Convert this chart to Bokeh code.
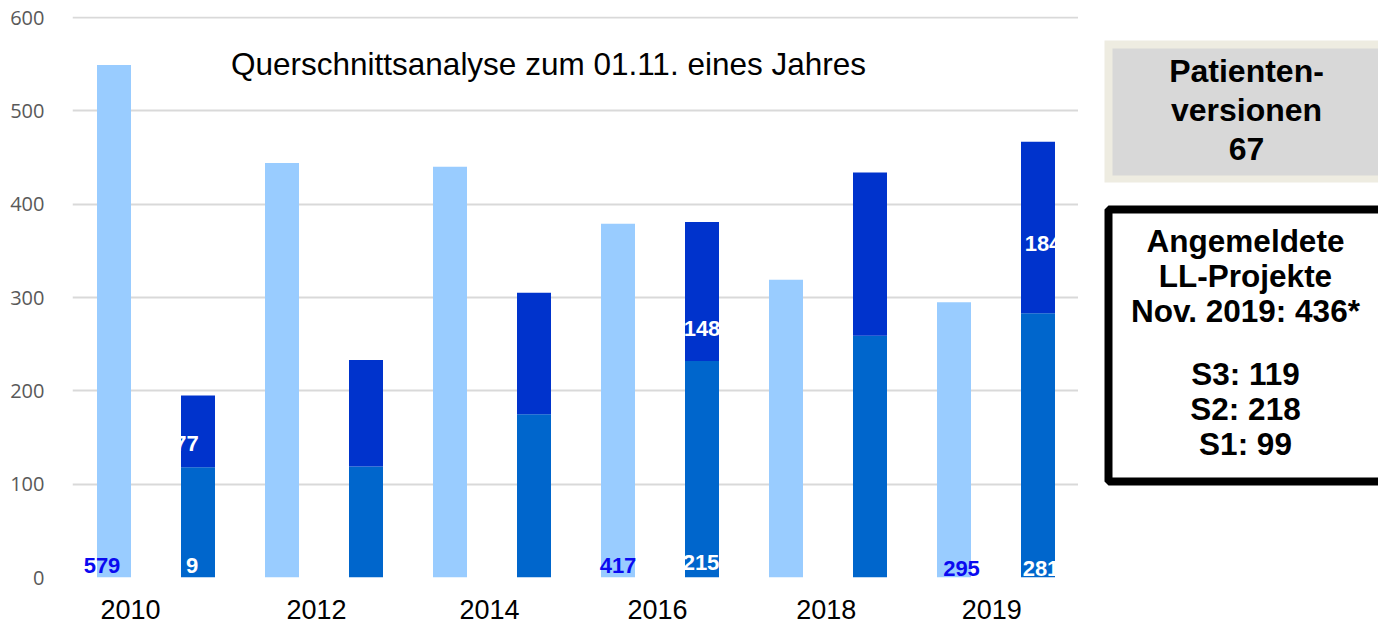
from bokeh.plotting import figure
from bokeh.models import ColumnDataSource, FixedTicker, Range1d
from bokeh.layouts import row
from bokeh.core.properties import value
from bokeh.embed import file_html
from bokeh.resources import INLINE

# ---- data ----
years = ["2010", "2012", "2014", "2016", "2018", "2019"]
light_vals = [549, 444, 440, 379, 319, 295]          # light blue bars
dark_lower = [118, 119, 175, 232, 259, 283]           # medium blue (lower part)
dark_upper = [77, 114, 130, 149, 175, 184]            # dark blue (upper part)
y_ticks = [0, 100, 200, 300, 400, 500, 600]

blue_lbl_pair = [0, 3, 5]
blue_lbl_text = ["579", "417", "295"]
lower_lbl_pair = [0, 3, 5]
lower_lbl_text = ["9", "215", "281"]
upper_lbl_pair = [0, 3, 5]
upper_lbl_text = ["77", "148", "184"]

# positions / styles
SLOT_PX = 84.0
light_x = [2 * i for i in range(len(years))]
dark_x = [2 * i + 1 for i in range(len(years))]
year_tick_pos = [0.196, 2.41, 4.47, 6.47, 8.48, 10.45]
blue_lbl_y = [13, 13, 10]
blue_lbl_dx = [-12, 0, 7.5]
lower_lbl_y = [13, 16, 10]
lower_lbl_dx = [-6, -1, 3]
upper_lbl_y = [144, 267, 358]
upper_lbl_dx = [-11.5, 0, 5]

FONT = "Liberation Sans"
TOP, BOTTOM = 16, 52

p = figure(width=1078, height=629, output_backend="svg", toolbar_location=None,
           x_range=Range1d((72 - 113.5) / SLOT_PX, (1078 - 113.5) / SLOT_PX),
           y_range=Range1d(0, 600 * 561 / 560),
           min_border_left=72, min_border_right=0, min_border_top=TOP, min_border_bottom=BOTTOM)
p.outline_line_color = None
p.background_fill_color = "white"
p.border_fill_color = "white"
p.xgrid.grid_line_color = None
p.ygrid.grid_line_color = "#D9D9D9"
p.ygrid.grid_line_width = 2
p.yaxis.ticker = FixedTicker(ticks=y_ticks)
p.yaxis.axis_line_color = None
p.yaxis.major_tick_line_color = None
p.yaxis.minor_tick_line_color = None
p.yaxis.major_label_standoff = 22
p.yaxis.major_label_text_font = "Open Sans"
p.yaxis.major_label_text_font_size = "20px"
p.yaxis.major_label_text_color = "#595959"

p.xaxis.ticker = FixedTicker(ticks=year_tick_pos)
p.xaxis.major_label_overrides = {t: y for t, y in zip(year_tick_pos, years)}
p.xaxis.axis_line_color = None
p.xaxis.major_tick_line_color = None
p.xaxis.minor_tick_line_color = None
p.xaxis.major_label_standoff = 16
p.xaxis.major_label_text_font = FONT
p.xaxis.major_label_text_font_size = "27px"
p.xaxis.major_label_text_color = "black"

BW = 34 / SLOT_PX
src_l = ColumnDataSource(dict(x=light_x, top=light_vals))
p.vbar(x="x", top="top", bottom=0, width=BW, source=src_l, fill_color="#99CCFF", line_color=None)
upper_top = [a + b for a, b in zip(dark_lower, dark_upper)]
src_d = ColumnDataSource(dict(x=dark_x, lo=dark_lower, hi=upper_top))
p.vbar(x="x", top="lo", bottom=0, width=BW, source=src_d, fill_color="#0066CC", line_color=None)
p.vbar(x="x", top="hi", bottom="lo", width=BW, source=src_d, fill_color="#0033CC", line_color=None)

def labels(pairs, texts, ys, dxs, xs, color):
    s = ColumnDataSource(dict(x=[xs[i] for i in pairs], y=ys, t=texts, dx=dxs))
    p.text(x="x", y="y", text="t", x_offset="dx", source=s, text_align="center",
           text_baseline="middle", text_font=value(FONT), text_font_style="bold",
           text_font_size="22px", text_color=color)

labels(blue_lbl_pair, blue_lbl_text, blue_lbl_y, blue_lbl_dx, light_x, "#0A0AF0")
labels(lower_lbl_pair, lower_lbl_text, lower_lbl_y, lower_lbl_dx, dark_x, "white")
labels(upper_lbl_pair, upper_lbl_text, upper_lbl_y, upper_lbl_dx, dark_x, "white")

p.text(x=[(548 - 113.5) / SLOT_PX], y=[550], text=["Querschnittsanalyse zum 01.11. eines Jahres"],
       text_align="center", text_baseline="middle", text_font=value(FONT),
       text_font_size="31.5px", text_color="black")

# ---- right side info boxes (coordinates in page pixels) ----
q = figure(width=300, height=629, output_backend="svg", toolbar_location=None,
           x_range=Range1d(1078, 1378), y_range=Range1d(629 - BOTTOM, TOP),
           min_border_left=0, min_border_right=0, min_border_top=TOP, min_border_bottom=BOTTOM)
q.axis.visible = False
q.grid.visible = False
q.outline_line_color = None
q.background_fill_color = "white"
q.border_fill_color = "white"

q.quad(left=[1104], right=[1400], top=[40], bottom=[182], fill_color="#EEECE1", line_color=None)
q.quad(left=[1112], right=[1400], top=[48], bottom=[175], fill_color="#D8D8D8", line_color=None)
q.quad(left=[1108], right=[1400], top=[209], bottom=[481], fill_color="white",
       line_color="black", line_width=8)

box1_lines = ["Patienten-", "versionen", "67"]
box1_y = [70, 109, 148]
box2_lines = ["Angemeldete", "LL-Projekte", "Nov. 2019: 436*", "S3: 119", "S2: 218", "S1: 99"]
box2_y = [240, 275, 310, 373, 408, 443]
q.text(x=[1246] * 3, y=box1_y, text=box1_lines, text_align="center", text_baseline="middle",
       text_font=value(FONT), text_font_style="bold", text_font_size="32px", text_color="black")
q.text(x=[1245] * 6, y=box2_y, text=box2_lines, text_align="center", text_baseline="middle",
       text_font=value(FONT), text_font_style="bold", text_font_size="31.5px", text_color="black")

layout = row(p, q, spacing=0)
open("out.html", "w").write(file_html(layout, INLINE))
